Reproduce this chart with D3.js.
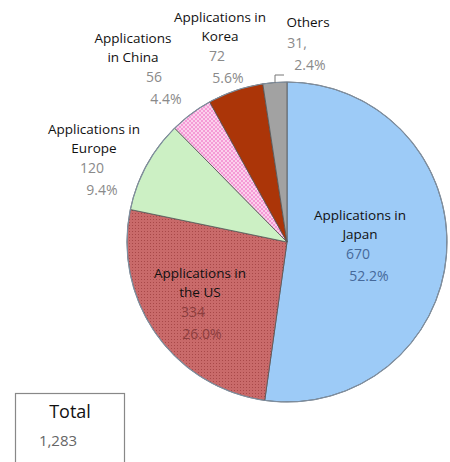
<!DOCTYPE html>
<html>
<head>
<meta charset="utf-8">
<script src="https://cdn.jsdelivr.net/npm/d3@7"></script>
<style>
  body { margin: 0; background: #fff; }
  text { font-family: "Open Sans", Lato, sans-serif; }
</style>
</head>
<body>
<div id="chart"></div>
<script>
// DATA
let regions = ["Japan", "US", "Europe", "China", "Korea", "Others"];
let counts = [670, 334, 120, 56, 72, 31];
let percents = ["52.2%", "26.0%", "9.4%", "4.4%", "5.6%", "2.4%"];
let labelLines = [
    ["Applications in", "Japan"],
    ["Applications in", "the US"],
    ["Applications in", "Europe"],
    ["Applications", "in China"],
    ["Applications in", "Korea"],
    ["Others"]
];
let countLabels = ["670", "334", "120", "56", "72", "31,"];
let totalLabel = "1,283";

// CHART AREA
let width = 450, height = 462;
let cx = 287, cy = 242, radius = 160;

let svg = d3.select("#chart").append("svg")
    .attr("width", width)
    .attr("height", height);

// patterns
let defs = svg.append("defs");

let usPat = defs.append("pattern")
    .attr("id", "usPat")
    .attr("width", 3).attr("height", 3)
    .attr("patternUnits", "userSpaceOnUse");
usPat.append("rect").attr("width", 3).attr("height", 3).attr("fill", "#c96a6a");
usPat.append("rect").attr("x", 1).attr("y", 1).attr("width", 1).attr("height", 1).attr("fill", "#a84848");

let cnPat = defs.append("pattern")
    .attr("id", "cnPat")
    .attr("width", 4).attr("height", 4)
    .attr("patternUnits", "userSpaceOnUse");
cnPat.append("rect").attr("width", 4).attr("height", 4).attr("fill", "#fbd0ec");
cnPat.append("rect").attr("width", 2).attr("height", 2).attr("fill", "#f59ad6");
cnPat.append("rect").attr("x", 2).attr("y", 2).attr("width", 2).attr("height", 2).attr("fill", "#f59ad6");

let fills = ["#9dcbf7", "url(#usPat)", "#ccf0c4", "url(#cnPat)", "#ab3508", "#a2a2a2"];

let data = regions.map((r, i) => ({region: r, count: counts[i]}));

let pie = d3.pie()
    .value(d => d.count)
    .sort(null);

let arc = d3.arc()
    .innerRadius(0)
    .outerRadius(radius);

let g = svg.append("g")
    .attr("transform", "translate(" + cx + "," + cy + ")");

g.selectAll(".slice")
    .data(pie(data))
    .enter()
    .append("path")
    .attr("class", "slice")
    .attr("d", arc)
    .attr("fill", (d, i) => fills[i])
    .attr("stroke", "#555")
    .attr("stroke-width", 0.8);

// outer rim
g.append("circle")
    .attr("r", radius)
    .attr("fill", "none")
    .attr("stroke", "#7f8fa0")
    .attr("stroke-width", 1.2);

// LABELS
// anchor for each label block: x of category text, y of first line, x of count, x of percent
let labelPos = [
    {x: 360, y: 220, nx: 358, px: 369},
    {x: 200, y: 278, nx: 193, px: 202},
    {x: 94, y: 134, nx: 92, px: 102},
    {x: 133, y: 43, nx: 154, px: 166},
    {x: 220, y: 22, nx: 217, px: 228},
    {x: 308, y: 27, nx: 297, px: 310}
];
let numColors = ["#46699a", "#8c3e3e", "#8a8a8a", "#8a8a8a", "#8a8a8a", "#8a8a8a"];
let lh = 18.5;

data.forEach((d, i) => {
    let p = labelPos[i];
    let lines = labelLines[i];
    lines.forEach((t, j) => {
        svg.append("text")
            .attr("x", p.x)
            .attr("y", p.y + j * lh)
            .attr("text-anchor", "middle")
            .attr("font-size", 13.5)
            .attr("fill", "#111")
            .text(t);
    });
    let ny = p.y + lines.length * lh + 2;
    svg.append("text")
        .attr("x", p.nx)
        .attr("y", ny)
        .attr("text-anchor", "middle")
        .attr("font-size", 14)
        .attr("fill", numColors[i])
        .text(countLabels[i]);
    svg.append("text")
        .attr("x", p.px)
        .attr("y", ny + 22)
        .attr("text-anchor", "middle")
        .attr("font-size", 14)
        .attr("fill", numColors[i])
        .text(percents[i]);
});

// leader line for Others
svg.append("path")
    .attr("d", "M275,83 L275,75 L284,75")
    .attr("fill", "none")
    .attr("stroke", "#777")
    .attr("stroke-width", 1);

// TOTAL BOX
svg.append("rect")
    .attr("x", 15.5).attr("y", 393.5)
    .attr("width", 109).attr("height", 80)
    .attr("fill", "#fff")
    .attr("stroke", "#888")
    .attr("stroke-width", 1.2);

svg.append("text")
    .attr("x", 70).attr("y", 418)
    .attr("text-anchor", "middle")
    .attr("font-size", 18)
    .attr("fill", "#111")
    .text("Total");

svg.append("text")
    .attr("x", 58).attr("y", 446)
    .attr("text-anchor", "middle")
    .attr("font-size", 15)
    .attr("fill", "#666")
    .text(totalLabel);
</script>
</body>
</html>
